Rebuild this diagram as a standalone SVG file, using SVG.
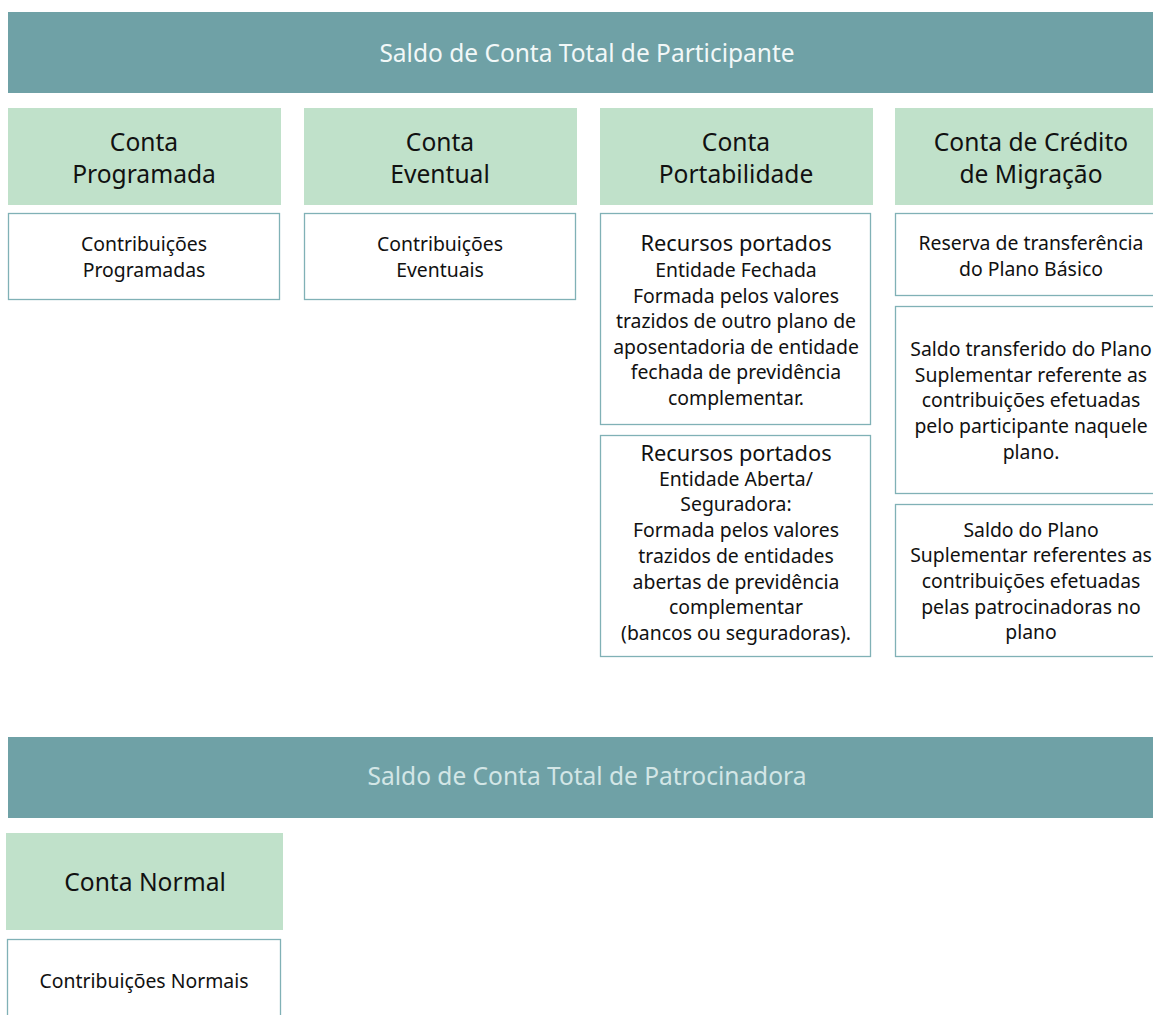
<svg xmlns="http://www.w3.org/2000/svg" width="1153" height="1015" viewBox="0 0 1153 1015">
<style>
.banner{fill:#6fa1a6}
.hdr{fill:#c0e1ca}
.box{fill:#ffffff;stroke:#80b1b6;stroke-width:1.3}
text{font-family:"Noto Sans","Open Sans",sans-serif;text-anchor:middle;fill:#111}
.title{font-size:24.5px;fill:#f2f8f8}
.title2{font-size:24.5px;fill:#d3e6e6}
.h{font-size:24.6px}
.b{font-size:19.4px}
.b2{font-size:21.8px}
</style>
<rect width="1153" height="1015" fill="#ffffff"/>
<g id="connectors"></g>
<g id="participante">
<rect class="banner" x="8" y="12" width="1160" height="81"/>
<text class="title" x="587" y="62">Saldo de Conta Total de Participante</text>
</g>
<g id="conta-programada">
<rect class="hdr" x="8" y="108" width="273" height="97"/>
<text class="h" x="144" y="151">Conta</text>
<text class="h" x="144" y="183">Programada</text>
</g>
<g id="contrib-programadas">
<rect class="box" x="8.5" y="213.5" width="271" height="86"/>
<text class="b" x="144" y="251">Contribuições</text>
<text class="b" x="144" y="277">Programadas</text>
</g>
<g id="conta-eventual">
<rect class="hdr" x="304" y="108" width="273" height="97"/>
<text class="h" x="440" y="151">Conta</text>
<text class="h" x="440" y="183">Eventual</text>
</g>
<g id="contrib-eventuais">
<rect class="box" x="304.5" y="213.5" width="271" height="86"/>
<text class="b" x="440" y="251">Contribuições</text>
<text class="b" x="440" y="277">Eventuais</text>
</g>
<g id="conta-portabilidade">
<rect class="hdr" x="600" y="108" width="273" height="97"/>
<text class="h" x="736" y="151">Conta</text>
<text class="h" x="736" y="183">Portabilidade</text>
</g>
<g id="recursos-fechada">
<rect class="box" x="600.5" y="213.5" width="270" height="211"/>
<text class="b2" x="736" y="251">Recursos portados</text>
<text class="b" x="736" y="277">Entidade Fechada</text>
<text class="b" x="736" y="303">Formada pelos valores</text>
<text class="b" x="736" y="328">trazidos de outro plano de</text>
<text class="b" x="736" y="354">aposentadoria de entidade</text>
<text class="b" x="736" y="379">fechada de previdência</text>
<text class="b" x="736" y="405">complementar.</text>
</g>
<g id="recursos-aberta">
<rect class="box" x="600.5" y="435.5" width="270" height="221"/>
<text class="b2" x="736" y="461">Recursos portados</text>
<text class="b" x="736" y="486">Entidade Aberta/</text>
<text class="b" x="736" y="511">Seguradora:</text>
<text class="b" x="736" y="537">Formada pelos valores</text>
<text class="b" x="736" y="563">trazidos de entidades</text>
<text class="b" x="736" y="589">abertas de previdência</text>
<text class="b" x="736" y="614">complementar</text>
<text class="b" x="736" y="640">(bancos ou seguradoras).</text>
</g>
<g id="conta-migracao">
<rect class="hdr" x="895" y="108" width="273" height="97"/>
<text class="h" x="1031" y="151">Conta de Crédito</text>
<text class="h" x="1031" y="183">de Migração</text>
</g>
<g id="reserva-basico">
<rect class="box" x="895.5" y="213.5" width="271" height="82"/>
<text class="b" x="1031" y="250">Reserva de transferência</text>
<text class="b" x="1031" y="276">do Plano Básico</text>
</g>
<g id="saldo-transferido">
<rect class="box" x="895.5" y="306.5" width="271" height="187"/>
<text class="b" x="1031" y="356">Saldo transferido do Plano</text>
<text class="b" x="1031" y="382">Suplementar referente as</text>
<text class="b" x="1031" y="407">contribuições efetuadas</text>
<text class="b" x="1031" y="433">pelo participante naquele</text>
<text class="b" x="1031" y="459">plano.</text>
</g>
<g id="saldo-plano">
<rect class="box" x="895.5" y="504.5" width="271" height="152"/>
<text class="b" x="1031" y="537">Saldo do Plano</text>
<text class="b" x="1031" y="562">Suplementar referentes as</text>
<text class="b" x="1031" y="588">contribuições efetuadas</text>
<text class="b" x="1031" y="614">pelas patrocinadoras no</text>
<text class="b" x="1031" y="639">plano</text>
</g>
<g id="patrocinadora">
<rect class="banner" x="8" y="737" width="1160" height="81"/>
<text class="title2" x="587" y="785">Saldo de Conta Total de Patrocinadora</text>
</g>
<g id="conta-normal">
<rect class="hdr" x="6" y="833" width="277" height="97"/>
<text class="h" x="145" y="891">Conta Normal</text>
</g>
<g id="contrib-normais">
<rect class="box" x="7.5" y="939.5" width="273" height="90"/>
<text class="b" x="144" y="988">Contribuições Normais</text>
</g>
</svg>
